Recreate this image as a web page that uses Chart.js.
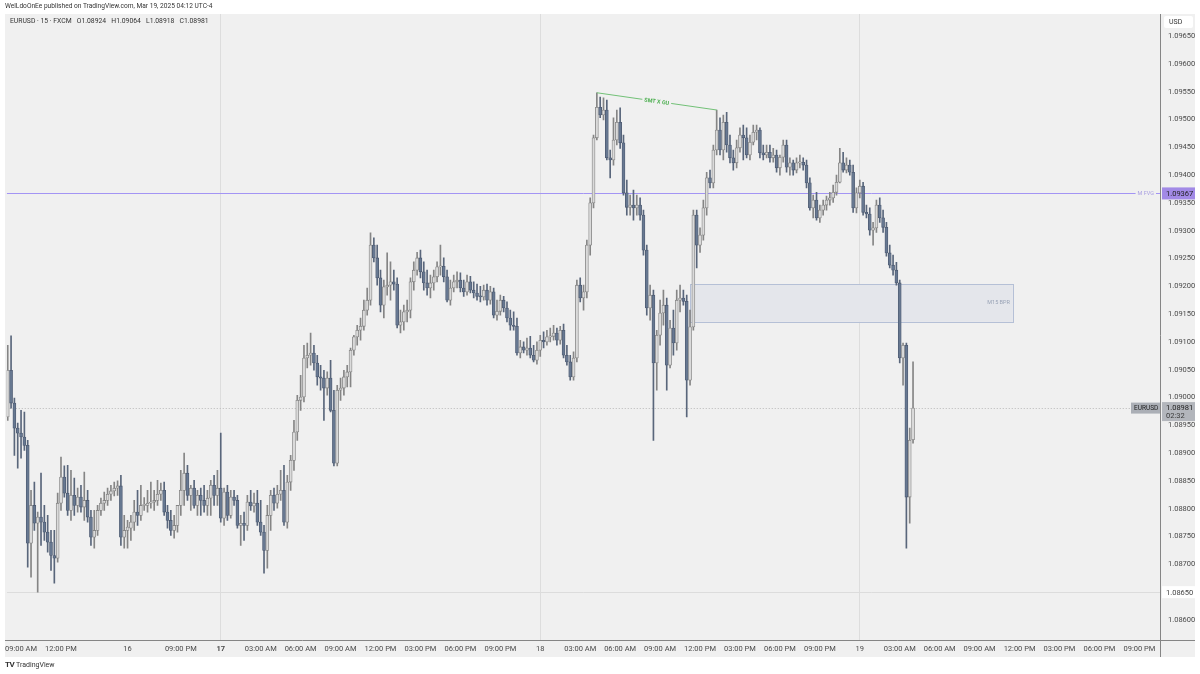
<!DOCTYPE html>
<html><head><meta charset="utf-8">
<script src="https://cdn.jsdelivr.net/npm/chart.js@4.4.1/dist/chart.umd.min.js"></script>
<style>
html,body{margin:0;padding:0;background:#fff;}
#wrap{position:relative;width:1200px;height:674px;overflow:hidden;font-family:Roboto,'Liberation Sans',sans-serif;}
canvas{position:absolute;left:0;top:0;}
#hdr{position:absolute;left:5px;top:2px;font-size:6.6px;line-height:9px;color:#333;white-space:nowrap;}
#legend{position:absolute;left:10px;top:17px;font-size:6.8px;line-height:9px;color:#333;white-space:nowrap;}
#foot{position:absolute;left:5px;top:660px;font-size:7px;line-height:9px;color:#333;white-space:nowrap;}
#foot b{font-size:8px;letter-spacing:-0.6px;margin-right:2px;}
</style></head><body>
<div id="wrap"><canvas id="c" width="1200" height="674"></canvas>
<div id="hdr">WelLdoOnEe published on TradingView.com, Mar 19, 2025 04:12 UTC-4</div>
<div id="legend"></div>
<div id="foot"><b>TV</b>TradingView</div>
</div>
<script>
// ---- sessions (bar start time, number of bars incl. future empty bars) ----
const sessionStarts = [['2025-03-14 08:00', 36], ['2025-03-16 17:00', 311]];

// ---- OHLC candles, 15 min, EURUSD ----
const fri14 = [
[1.08965,1.09094,1.08959,1.09049],[1.09049,1.09111,1.08981,1.08990],[1.08990,1.08999,1.08896,1.08945],[1.08945,1.08954,1.08873,1.08936],
[1.08936,1.08977,1.08891,1.08929],[1.08929,1.08974,1.08905,1.08914],[1.08914,1.08923,1.08695,1.08738],[1.08738,1.08833,1.08677,1.08806],
[1.08806,1.08848,1.08761,1.08774],[1.08774,1.08794,1.08650,1.08785],[1.08785,1.08864,1.08734,1.08776],[1.08776,1.08806,1.08743,1.08758],
[1.08758,1.08788,1.08722,1.08740],[1.08740,1.08761,1.08689,1.08716],[1.08716,1.08761,1.08666,1.08711],[1.08711,1.08828,1.08704,1.08810],
[1.08810,1.08893,1.08797,1.08857],[1.08857,1.08877,1.08821,1.08828],[1.08828,1.08878,1.08788,1.08797],[1.08797,1.08869,1.08779,1.08824],
[1.08824,1.08855,1.08788,1.08806],[1.08806,1.08837,1.08794,1.08821],[1.08821,1.08842,1.08794,1.08803],[1.08803,1.08866,1.08779,1.08815],
[1.08815,1.08833,1.08776,1.08785],[1.08785,1.08797,1.08734,1.08749],[1.08749,1.08797,1.08729,1.08761],[1.08761,1.08806,1.08752,1.08797],
[1.08797,1.08819,1.08788,1.08810],[1.08810,1.08830,1.08797,1.08815],[1.08815,1.08837,1.08806,1.08826],[1.08826,1.08842,1.08815,1.08832],
[1.08832,1.08848,1.08823,1.08837],[1.08837,1.08850,1.08824,1.08841],[1.08841,1.08860,1.08734,1.08749],[1.08749,1.08788,1.08729,1.08761]
];
const sun16 = [
[1.08761,1.08779,1.08729,1.08767],[1.08765,1.08788,1.08743,1.08776],[1.08776,1.08815,1.08761,1.08794],[1.08794,1.08833,1.08770,1.08788],
[1.08788,1.08842,1.08779,1.08806],[1.08806,1.08820,1.08797,1.08808],[1.08806,1.08833,1.08794,1.08810],[1.08810,1.08848,1.08801,1.08812],
[1.08812,1.08833,1.08797,1.08815],[1.08815,1.08851,1.08806,1.08826],[1.08826,1.08846,1.08815,1.08833],[1.08833,1.08848,1.08788,1.08794],
[1.08794,1.08806,1.08765,1.08779],[1.08779,1.08797,1.08752,1.08761],[1.08761,1.08788,1.08747,1.08770],[1.08770,1.08806,1.08758,1.08806],
[1.08806,1.08869,1.08788,1.08833],[1.08833,1.08900,1.08806,1.08864],[1.08864,1.08878,1.08815,1.08824],[1.08824,1.08842,1.08797,1.08837],
[1.08837,1.08851,1.08801,1.08806],[1.08806,1.08833,1.08788,1.08824],[1.08824,1.08837,1.08788,1.08815],[1.08815,1.08842,1.08794,1.08806],
[1.08806,1.08833,1.08788,1.08819],[1.08819,1.08851,1.08788,1.08842],[1.08842,1.08860,1.08806,1.08824],[1.08824,1.08869,1.08806,1.08837]
];
const mon17 = [
[1.08837,1.08936,1.08776,1.08783],[1.08783,1.08837,1.08770,1.08830],[1.08830,1.08842,1.08779,1.08788],[1.08788,1.08833,1.08783,1.08821],
[1.08821,1.08833,1.08806,1.08815],[1.08815,1.08824,1.08765,1.08770],[1.08770,1.08788,1.08734,1.08774],[1.08774,1.08794,1.08743,1.08770],
[1.08770,1.08824,1.08761,1.08812],[1.08812,1.08833,1.08797,1.08805],[1.08805,1.08828,1.08794,1.08810],[1.08810,1.08833,1.08770,1.08776],
[1.08776,1.08815,1.08752,1.08758],[1.08758,1.08770,1.08684,1.08725],[1.08725,1.08806,1.08693,1.08788],[1.08788,1.08833,1.08761,1.08824],
[1.08824,1.08837,1.08797,1.08810],[1.08810,1.08842,1.08801,1.08826],[1.08826,1.08869,1.08815,1.08833],[1.08833,1.08878,1.08770,1.08776],
[1.08776,1.08860,1.08765,1.08848],[1.08848,1.08896,1.08833,1.08887],[1.08887,1.08959,1.08869,1.08938],[1.08938,1.09004,1.08923,1.08995],
[1.08995,1.09040,1.08977,1.09001],[1.09001,1.09094,1.08992,1.09071],[1.09071,1.09098,1.09053,1.09076],[1.09076,1.09116,1.09058,1.09080],
[1.09080,1.09094,1.09049,1.09062],[1.09062,1.09076,1.09022,1.09037],[1.09037,1.09058,1.09013,1.09035],[1.09035,1.09049,1.08959,1.09017],
[1.09017,1.09046,1.09004,1.09035],[1.09035,1.09067,1.08974,1.08977],[1.08977,1.09013,1.08877,1.08882],[1.08882,1.09022,1.08877,1.09013],
[1.09013,1.09035,1.08995,1.09017],[1.09017,1.09049,1.09004,1.09037],[1.09037,1.09058,1.09019,1.09046],[1.09046,1.09089,1.09019,1.09085],
[1.09085,1.09112,1.09076,1.09109],[1.09109,1.09130,1.09094,1.09121],[1.09121,1.09143,1.09103,1.09128],[1.09128,1.09175,1.09121,1.09157],
[1.09157,1.09197,1.09148,1.09175],[1.09175,1.09296,1.09166,1.09274],[1.09274,1.09287,1.09244,1.09251],[1.09251,1.09274,1.09202,1.09215],
[1.09215,1.09229,1.09154,1.09166],[1.09166,1.09211,1.09143,1.09199],[1.09199,1.09260,1.09184,1.09202],[1.09202,1.09244,1.09175,1.09208],
[1.09208,1.09229,1.09193,1.09204],[1.09204,1.09215,1.09125,1.09130],[1.09130,1.09157,1.09116,1.09136],[1.09136,1.09166,1.09121,1.09154],
[1.09154,1.09175,1.09136,1.09157],[1.09157,1.09215,1.09143,1.09208],[1.09208,1.09244,1.09193,1.09229],[1.09229,1.09261,1.09220,1.09251],
[1.09251,1.09265,1.09215,1.09226],[1.09226,1.09244,1.09193,1.09206],[1.09206,1.09229,1.09184,1.09197],[1.09197,1.09220,1.09179,1.09206],
[1.09206,1.09229,1.09193,1.09217],[1.09217,1.09244,1.09208,1.09235],[1.09235,1.09274,1.09220,1.09236],[1.09236,1.09251,1.09208,1.09217],
[1.09217,1.09229,1.09172,1.09175],[1.09175,1.09211,1.09166,1.09197],[1.09197,1.09220,1.09190,1.09208],[1.09208,1.09226,1.09197,1.09211],
[1.09211,1.09224,1.09190,1.09197],[1.09197,1.09211,1.09182,1.09190],[1.09190,1.09220,1.09184,1.09208],[1.09208,1.09218,1.09188,1.09193],
[1.09193,1.09208,1.09179,1.09188],[1.09188,1.09204,1.09175,1.09182],[1.09182,1.09200,1.09172,1.09181],[1.09181,1.09202,1.09175,1.09193],
[1.09193,1.09204,1.09166,1.09175],[1.09175,1.09200,1.09168,1.09190],[1.09190,1.09197,1.09143,1.09148],[1.09148,1.09175,1.09139,1.09155],
[1.09155,1.09184,1.09148,1.09175],[1.09175,1.09182,1.09154,1.09161],[1.09161,1.09172,1.09136,1.09143],[1.09143,1.09157,1.09121,1.09130],
[1.09130,1.09154,1.09121,1.09128],[1.09128,1.09143,1.09076,1.09080],[1.09080,1.09103,1.09071,1.09091],[1.09091,1.09100,1.09080,1.09085],
[1.09085,1.09107,1.09076,1.09089],[1.09089,1.09110,1.09071,1.09076],[1.09076,1.09094,1.09064,1.09067],[1.09067,1.09100,1.09060,1.09085]
];
const tue18 = [
[1.09085,1.09112,1.09074,1.09103],[1.09103,1.09118,1.09089,1.09100],[1.09100,1.09121,1.09094,1.09109],[1.09109,1.09125,1.09100,1.09110],
[1.09110,1.09130,1.09103,1.09116],[1.09116,1.09125,1.09094,1.09103],[1.09103,1.09128,1.09096,1.09121],[1.09121,1.09132,1.09071,1.09076],
[1.09076,1.09094,1.09058,1.09064],[1.09064,1.09076,1.09031,1.09037],[1.09037,1.09082,1.09031,1.09071],[1.09071,1.09211,1.09064,1.09202],
[1.09202,1.09215,1.09172,1.09179],[1.09179,1.09202,1.09157,1.09190],[1.09190,1.09283,1.09179,1.09274],[1.09274,1.09359,1.09256,1.09350],
[1.09350,1.09472,1.09341,1.09467],[1.09467,1.09548,1.09463,1.09522],[1.09522,1.09540,1.09503,1.09508],[1.09508,1.09539,1.09499,1.09517],
[1.09517,1.09535,1.09427,1.09431],[1.09431,1.09445,1.09395,1.09427],[1.09427,1.09503,1.09418,1.09463],[1.09463,1.09517,1.09454,1.09495],
[1.09495,1.09521,1.09448,1.09458],[1.09458,1.09472,1.09364,1.09368],[1.09368,1.09391,1.09328,1.09342],[1.09342,1.09364,1.09328,1.09346],
[1.09346,1.09373,1.09319,1.09341],[1.09341,1.09364,1.09328,1.09346],[1.09346,1.09359,1.09319,1.09328],[1.09328,1.09337,1.09256,1.09265],
[1.09265,1.09274,1.09148,1.09161],[1.09161,1.09202,1.09139,1.09184],[1.09184,1.09193,1.08923,1.09062],[1.09062,1.09121,1.09013,1.09112],
[1.09112,1.09175,1.09094,1.09152],[1.09152,1.09193,1.09130,1.09166],[1.09166,1.09179,1.09013,1.09058],[1.09058,1.09139,1.09053,1.09125],
[1.09125,1.09157,1.09076,1.09098],[1.09098,1.09193,1.09085,1.09175],[1.09175,1.09202,1.09154,1.09179],[1.09179,1.09193,1.09166,1.09173],
[1.09173,1.09184,1.08965,1.09031],[1.09031,1.09157,1.09022,1.09127],[1.09127,1.09337,1.09121,1.09328],[1.09328,1.09337,1.09233,1.09274],
[1.09274,1.09305,1.09261,1.09292],[1.09292,1.09355,1.09283,1.09341],[1.09341,1.09405,1.09328,1.09395],[1.09395,1.09409,1.09377,1.09386],
[1.09386,1.09454,1.09377,1.09445],[1.09445,1.09517,1.09436,1.09481],[1.09481,1.09503,1.09436,1.09445],[1.09445,1.09508,1.09427,1.09495],
[1.09495,1.09513,1.09441,1.09454],[1.09454,1.09472,1.09422,1.09431],[1.09431,1.09445,1.09409,1.09422],[1.09422,1.09463,1.09413,1.09449],
[1.09449,1.09485,1.09441,1.09472],[1.09472,1.09490,1.09427,1.09467],[1.09467,1.09485,1.09431,1.09436],[1.09436,1.09472,1.09427,1.09459],
[1.09459,1.09490,1.09454,1.09477],[1.09477,1.09490,1.09463,1.09481],[1.09481,1.09485,1.09431,1.09440],[1.09440,1.09454,1.09427,1.09436],
[1.09436,1.09454,1.09431,1.09441],[1.09441,1.09454,1.09423,1.09431],[1.09431,1.09448,1.09423,1.09436],[1.09436,1.09445,1.09405,1.09413],
[1.09413,1.09436,1.09400,1.09432],[1.09432,1.09463,1.09423,1.09454],[1.09454,1.09463,1.09405,1.09414],[1.09414,1.09431,1.09400,1.09422],
[1.09422,1.09427,1.09400,1.09409],[1.09409,1.09431,1.09404,1.09422],[1.09422,1.09436,1.09413,1.09423],[1.09423,1.09431,1.09409,1.09418],
[1.09418,1.09427,1.09377,1.09386],[1.09386,1.09395,1.09337,1.09341],[1.09341,1.09364,1.09323,1.09355],[1.09355,1.09369,1.09319,1.09323],
[1.09323,1.09346,1.09315,1.09337],[1.09337,1.09355,1.09328,1.09346],[1.09346,1.09362,1.09337,1.09355],[1.09355,1.09369,1.09346,1.09359],
[1.09359,1.09382,1.09351,1.09369],[1.09369,1.09400,1.09364,1.09387],[1.09387,1.09448,1.09386,1.09422],[1.09422,1.09441,1.09405,1.09409],
[1.09409,1.09431,1.09404,1.09418],[1.09418,1.09427,1.09400,1.09405],[1.09405,1.09418,1.09333,1.09341],[1.09341,1.09377,1.09332,1.09368]
];
const wed19 = [
[1.09368,1.09391,1.09359,1.09380],[1.09380,1.09387,1.09328,1.09333],[1.09333,1.09346,1.09323,1.09330],[1.09330,1.09341,1.09292,1.09301],
[1.09301,1.09315,1.09274,1.09305],[1.09305,1.09355,1.09297,1.09346],[1.09346,1.09359,1.09315,1.09323],[1.09323,1.09337,1.09297,1.09306],
[1.09306,1.09315,1.09254,1.09260],[1.09260,1.09274,1.09233,1.09238],[1.09238,1.09256,1.09220,1.09229],[1.09229,1.09243,1.09202,1.09206],
[1.09206,1.09211,1.09062,1.09071],[1.09071,1.09098,1.09022,1.09094],[1.09094,1.09098,1.08729,1.08821],[1.08821,1.08945,1.08774,1.08923],
[1.08924,1.09064,1.08918,1.08981]
];

// ---- axis tick labels ----
const priceTicks = [1.0860,1.0865,1.0870,1.0875,1.0880,1.0885,1.0890,1.0895,1.0900,1.0905,1.0910,1.0915,
                    1.0920,1.0925,1.0930,1.0935,1.0940,1.0945,1.0950,1.0955,1.0960,1.0965];
const timeTicks = [
['2025-03-14 09:00','09:00 AM'],['2025-03-14 12:00','12:00 PM'],['2025-03-16 17:00','16'],['2025-03-16 21:00','09:00 PM'],
['2025-03-17 00:00','17'],['2025-03-17 03:00','03:00 AM'],['2025-03-17 06:00','06:00 AM'],['2025-03-17 09:00','09:00 AM'],
['2025-03-17 12:00','12:00 PM'],['2025-03-17 15:00','03:00 PM'],['2025-03-17 18:00','06:00 PM'],['2025-03-17 21:00','09:00 PM'],
['2025-03-18 00:00','18'],['2025-03-18 03:00','03:00 AM'],['2025-03-18 06:00','06:00 AM'],['2025-03-18 09:00','09:00 AM'],
['2025-03-18 12:00','12:00 PM'],['2025-03-18 15:00','03:00 PM'],['2025-03-18 18:00','06:00 PM'],['2025-03-18 21:00','09:00 PM'],
['2025-03-19 00:00','19'],['2025-03-19 03:00','03:00 AM'],['2025-03-19 06:00','06:00 AM'],['2025-03-19 09:00','09:00 AM'],
['2025-03-19 12:00','12:00 PM'],['2025-03-19 15:00','03:00 PM'],['2025-03-19 18:00','06:00 PM'],['2025-03-19 21:00','09:00 PM']
];
const dayStarts = ['2025-03-17 00:00','2025-03-18 00:00','2025-03-19 00:00'];
const boldDay = ['2025-03-17 00:00'];

// ---- drawings ----
const fvgLevel = 1.09367;
const lowLevel = 1.08650;
const bprBox = {from:'2025-03-18 11:15', to:'2025-03-19 11:30', top:1.09204, bottom:1.09136, label:'M15 BPR'};
const smtLine = {from:['2025-03-18 04:15',1.09548], to:['2025-03-18 13:15',1.09517], label:'SMT X GU'};
const countdown = '02:32';

// ---- build ----
function parseT(s){const [d,t]=s.split(' ');const [Y,M,D]=d.split('-').map(Number);const [h,m]=t.split(':').map(Number);return Date.UTC(Y,M-1,D,h,m);}
function fmtT(ms){const d=new Date(ms);const p=n=>String(n).padStart(2,'0');return d.getUTCFullYear()+'-'+p(d.getUTCMonth()+1)+'-'+p(d.getUTCDate())+' '+p(d.getUTCHours())+':'+p(d.getUTCMinutes());}
const barTimes=[];
sessionStarts.forEach(([s,n])=>{const t=parseT(s);for(let k=0;k<n;k++)barTimes.push(fmtT(t+k*900000));});
const idx = s => barTimes.indexOf(s);

const candles = [...fri14, ...sun16, ...mon17, ...tue18, ...wed19];
const last = candles[candles.length-1];
document.getElementById('legend').textContent =
  'EURUSD · 15 · FXCM\u2002 O'+last[0].toFixed(5)+'\u2002 H'+last[1].toFixed(5)+'\u2002 L'+last[2].toFixed(5)+'\u2002 C'+last[3].toFixed(5);

const isUp = c => c[3] >= c[0];
const wickData = candles.map((c,i)=>({x:i, y:[c[2], c[1]]}));
const bodyData = candles.map((c,i)=>({x:i, y:[Math.min(c[0],c[3]), Math.max(c[0],c[3])]}));
const tickLabelMap = {}; timeTicks.forEach(([t,l])=>{tickLabelMap[idx(t)]=l;});
const daySet = new Set(dayStarts.map(idx));
const boldSet = new Set(boldDay.map(idx));

const PANEL='#f0f0f0';
const FONT='Roboto, "Liberation Sans", sans-serif';

const bgPlugin = {
  id:'bg',
  beforeDraw(chart){
    const c=chart.ctx;
    c.save();
    c.fillStyle='#ffffff'; c.fillRect(0,0,chart.width,chart.height);
    c.fillStyle=PANEL; c.fillRect(5,14,1190,643);
    c.restore();
  }
};

function tag(c, x, y, w, h, bg, lines, color, font){
  c.fillStyle=bg; c.fillRect(x,y,w,h);
  c.fillStyle=color; c.font=font; c.textBaseline='middle'; c.textAlign='left';
  lines.forEach(([txt,dy,col])=>{ if(col) c.fillStyle=col; c.fillText(txt, x+4, y+dy); });
}

const annotPlugin = {
  id:'annot',
  beforeDatasetsDraw(chart){
    const c=chart.ctx, xs=chart.scales.x, ys=chart.scales.y, a=chart.chartArea;
    c.save();
    c.beginPath(); c.rect(a.left,a.top,a.right-a.left,a.bottom-a.top); c.clip();
    // BPR box
    const x1=xs.getPixelForValue(idx(bprBox.from)), x2=xs.getPixelForValue(idx(bprBox.to));
    const y1=ys.getPixelForValue(bprBox.top), y2=ys.getPixelForValue(bprBox.bottom);
    c.fillStyle='#e4e6eb'; c.fillRect(x1,y1,x2-x1,y2-y1);
    c.strokeStyle='#b5c0d6'; c.lineWidth=1; c.strokeRect(Math.round(x1)+0.5,Math.round(y1)+0.5,Math.round(x2-x1),Math.round(y2-y1));
    // low level line
    const yl=Math.round(ys.getPixelForValue(lowLevel))+0.5;
    c.strokeStyle='#dcdcdc'; c.beginPath(); c.moveTo(a.left,yl); c.lineTo(a.right,yl); c.stroke();
    // current price dotted
    const yc=Math.round(ys.getPixelForValue(last[3]))+0.5;
    c.strokeStyle='#b8b8b8'; c.setLineDash([1,2]); c.beginPath(); c.moveTo(a.left,yc); c.lineTo(a.right,yc); c.stroke(); c.setLineDash([]);
    // FVG line
    const yf=Math.round(ys.getPixelForValue(fvgLevel))+0.5;
    c.strokeStyle='#a394f4'; c.beginPath(); c.moveTo(a.left,yf); c.lineTo(a.right,yf); c.stroke();
    c.restore();
  },
  afterDatasetsDraw(chart){
    const c=chart.ctx, xs=chart.scales.x, ys=chart.scales.y, a=chart.chartArea;
    c.save();
    // SMT line
    const sx1=xs.getPixelForValue(idx(smtLine.from[0])), sy1=ys.getPixelForValue(smtLine.from[1]);
    const sx2=xs.getPixelForValue(idx(smtLine.to[0])), sy2=ys.getPixelForValue(smtLine.to[1]);
    c.strokeStyle='#72c177'; c.lineWidth=1;
    c.beginPath(); c.moveTo(sx1,sy1); c.lineTo(sx2,sy2); c.stroke();
    const ang=Math.atan2(sy2-sy1,sx2-sx1);
    c.translate((sx1+sx2)/2,(sy1+sy2)/2); c.rotate(ang);
    c.font='bold 5.5px '+FONT; c.textAlign='center'; c.textBaseline='middle';
    const tw=c.measureText(smtLine.label).width;
    c.fillStyle=PANEL; c.fillRect(-tw/2-2,-3,tw+4,6);
    c.fillStyle='#4caf50'; c.fillText(smtLine.label,0,0.5);
    c.setTransform(1,0,0,1,0,0);
    // BPR label
    const x2=xs.getPixelForValue(idx(bprBox.to));
    const ym=(ys.getPixelForValue(bprBox.top)+ys.getPixelForValue(bprBox.bottom))/2;
    c.font='5.5px '+FONT; c.textAlign='right'; c.textBaseline='middle'; c.fillStyle='#99a3b6';
    c.fillText(bprBox.label, x2-3, ym);
    // FVG label
    const yf=ys.getPixelForValue(fvgLevel);
    c.font='5.5px '+FONT; c.textAlign='right';
    const fw=c.measureText('M FVG').width;
    c.fillStyle=PANEL; c.fillRect(a.right-6-fw-2, yf-3, fw+4, 6);
    c.fillStyle='#a99fe2'; c.fillText('M FVG', a.right-6, yf+0.5);
    c.restore();
  },
  afterDraw(chart){
    const c=chart.ctx, ys=chart.scales.y, a=chart.chartArea;
    c.save();
    // separators
    c.strokeStyle='#858585'; c.lineWidth=1;
    c.beginPath(); c.moveTo(Math.round(a.right)+0.5,14); c.lineTo(Math.round(a.right)+0.5,657); c.stroke();
    c.beginPath(); c.moveTo(5,Math.round(a.bottom)+0.5); c.lineTo(1195,Math.round(a.bottom)+0.5); c.stroke();
    const ax=Math.round(a.right)+2;
    // USD
    c.fillStyle='#ffffff'; c.beginPath(); c.roundRect(ax+2,16,29,12,2); c.fill();
    c.fillStyle='#333'; c.font='7px '+FONT; c.textBaseline='middle'; c.textAlign='left'; c.fillText('USD', ax+7, 22.5);
    // FVG tag
    const yf=ys.getPixelForValue(fvgLevel);
    tag(c, ax, yf-6, 33, 12, '#a28ae6', [[fvgLevel.toFixed(5),6.5]], '#1e1e1e', '7.5px '+FONT);
    // low level tag
    const yl=ys.getPixelForValue(lowLevel);
    tag(c, ax, yl-6, 33, 12, '#ffffff', [[lowLevel.toFixed(5),6.5]], '#444', '7.5px '+FONT);
    // current price tags
    const yc=ys.getPixelForValue(last[3]);
    c.fillStyle='#abafb6'; c.fillRect(a.right-29, yc-5.5, 29, 11);
    c.fillStyle='#222'; c.font='6.5px '+FONT; c.textAlign='left'; c.textBaseline='middle'; c.fillText('EURUSD', a.right-26, yc+0.5);
    tag(c, ax, yc-6, 33, 19, '#b3b6bc', [[last[3].toFixed(5),6.5,'#1e1e1e'],[countdown,14.5,'#3a3a3a']], '#1e1e1e', '7.5px '+FONT);
    c.restore();
  }
};

Chart.defaults.font.family = FONT;
new Chart(document.getElementById('c'), {
  type:'bar',
  data:{datasets:[
    {label:'body', data:bodyData, order:1, grouped:false, barThickness:3, minBarLength:1, borderSkipped:false,
     backgroundColor:candles.map(c=>isUp(c)?'#dadada':'#677891'),
     borderColor:candles.map(c=>isUp(c)?'#858585':'#4e5b72'), borderWidth:0.8},
    {label:'wick', data:wickData, order:2, grouped:false, barThickness:1, borderWidth:0,
     backgroundColor:candles.map(c=>isUp(c)?'#858585':'#59667b')}
  ]},
  options:{
    responsive:false, animation:false, devicePixelRatio:1,
    layout:{padding:{left:5, top:14, right:0, bottom:17}},
    plugins:{legend:{display:false}, tooltip:{enabled:false}},
    scales:{
      x:{type:'linear', min:-0.3, max:346.2, offset:false,
         border:{display:false},
         grid:{offset:false, drawTicks:false, lineWidth:1, color:ctx=> (ctx.tick && daySet.has(ctx.tick.value)) ? '#dddddd' : 'rgba(0,0,0,0)'},
         afterBuildTicks:s=>{ s.ticks = timeTicks.map(([t])=>({value:idx(t)})); },
         afterFit:s=>{ s.height=17; },
         ticks:{autoSkip:false, maxRotation:0, minRotation:0, padding:5, color:'#4a4a4a',
                font:ctx=>({family:FONT, size:7.5, weight:(ctx.tick && boldSet.has(ctx.tick.value))?'bold':'normal'}),
                callback:v=>tickLabelMap[v] ?? ''}},
      y:{position:'right', min:1.08564, max:1.096896,
         border:{display:false},
         grid:{display:false, drawTicks:false},
         afterBuildTicks:s=>{ s.ticks = priceTicks.map(v=>({value:v})); },
         afterFit:s=>{ s.width=40; },
         ticks:{padding:8, color:'#4a4a4a', font:{family:FONT, size:7.5}, callback:v=>Number(v).toFixed(5)}}
    }
  },
  plugins:[bgPlugin, annotPlugin]
});
</script>
</body></html>
